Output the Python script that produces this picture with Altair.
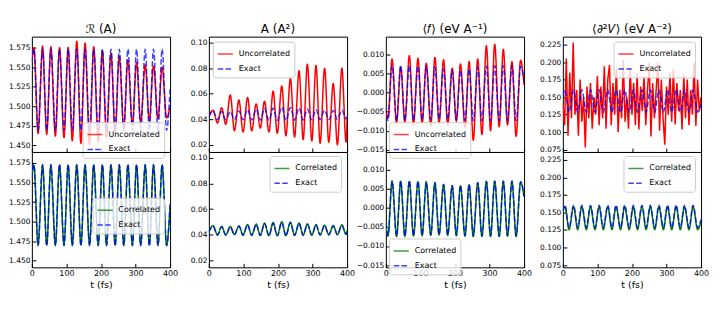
import altair as alt
import pandas as pd

# ---------------- data ----------------
# common time grid for R, <f>, <d2V>  (R peaks at odd indices)
T = [0, 6, 18, 31, 43, 55, 68, 80, 93, 105, 117, 130, 142, 154, 167, 179, 192, 204,
     216, 229, 241, 253, 266, 278, 291, 303, 315, 328, 340, 352, 365, 377, 390, 400]

R_exact = [1.556, 1.573, 1.469, 1.573, 1.469, 1.573, 1.469, 1.573, 1.469, 1.573, 1.469,
           1.573, 1.469, 1.573, 1.469, 1.573, 1.469, 1.573, 1.469, 1.573, 1.469, 1.573,
           1.469, 1.573, 1.469, 1.573, 1.469, 1.573, 1.469, 1.573, 1.469, 1.573, 1.469, 1.522]
R_corr = [1.556, 1.572, 1.470, 1.572, 1.470, 1.572, 1.470, 1.572, 1.470, 1.572, 1.470,
          1.572, 1.470, 1.572, 1.470, 1.572, 1.470, 1.572, 1.470, 1.572, 1.470, 1.572,
          1.470, 1.572, 1.470, 1.572, 1.470, 1.572, 1.470, 1.572, 1.470, 1.572, 1.470, 1.521]
R_unc = [1.556, 1.575, 1.465, 1.577, 1.464, 1.576, 1.462, 1.575, 1.460, 1.575, 1.456,
         1.583, 1.4525, 1.5805, 1.451, 1.576, 1.454, 1.571, 1.460, 1.568, 1.467, 1.5635,
         1.472, 1.559, 1.476, 1.556, 1.479, 1.553, 1.482, 1.5515, 1.484, 1.550, 1.485, 1.500]

F_exact = [-0.0040, -0.0073, 0.0071, -0.0074, 0.0071, -0.0074, 0.0071, -0.0073, 0.0070,
           -0.0072, 0.0069, -0.0071, 0.0067, -0.0070, 0.0062, -0.0071, 0.0059, -0.0072,
           0.0059, -0.0073, 0.0062, -0.0074, 0.0067, -0.0074, 0.0070, -0.0074, 0.0071,
           -0.0074, 0.0071, -0.0073, 0.0071, -0.0074, 0.0069, 0.0030]
F_corr = [-0.0040, -0.0074, 0.0070, -0.0075, 0.0070, -0.0075, 0.0070, -0.0074, 0.0069,
          -0.0073, 0.0068, -0.0072, 0.0066, -0.0071, 0.0061, -0.0072, 0.0058, -0.0073,
          0.0058, -0.0074, 0.0061, -0.0075, 0.0066, -0.0075, 0.0069, -0.0075, 0.0070,
          -0.0075, 0.0070, -0.0074, 0.0070, -0.0075, 0.0068, 0.0030]
F_unc = [-0.0040, -0.0068, 0.0088, -0.0080, 0.0068, -0.0078, 0.0097, -0.0085, 0.0090,
         -0.0082, 0.0077, -0.0088, 0.0092, -0.0080, 0.0086, -0.0086, 0.0064, -0.0075,
         0.0075, -0.0092, 0.0082, -0.0125, 0.0088, -0.0110, 0.0123, -0.0100, 0.0127,
         -0.0090, 0.0114, -0.0085, 0.0081, -0.0115, 0.0085, 0.0020]

V_exact = [0.152, 0.1605, 0.1285, 0.1605, 0.1285, 0.1605, 0.1285, 0.1605, 0.1285, 0.1605,
           0.1285, 0.1605, 0.1285, 0.1605, 0.1285, 0.1605, 0.1285, 0.1605, 0.1285, 0.1605,
           0.1285, 0.1605, 0.1285, 0.1605, 0.1285, 0.1605, 0.1285, 0.1605, 0.1285, 0.1605,
           0.1285, 0.1605, 0.1285, 0.140]
V_corr = [0.150, 0.1585, 0.1255, 0.1585, 0.1255, 0.1585, 0.1255, 0.1585, 0.1255, 0.1585,
          0.1255, 0.1585, 0.1255, 0.1585, 0.1255, 0.1585, 0.1255, 0.1585, 0.1255, 0.1585,
          0.1255, 0.1585, 0.1255, 0.1585, 0.1255, 0.1585, 0.1255, 0.1585, 0.1255, 0.1585,
          0.1255, 0.1585, 0.1255, 0.137]

# noisy uncorrelated <d2V>, 5 fs spacing
T5 = [0, 5, 10, 15, 20, 25, 30, 35, 40, 45, 50, 55, 60, 65, 70, 75, 80, 85, 90, 95,
      100, 105, 110, 115, 120, 125, 130, 135, 140, 145, 150, 155, 160, 165, 170, 175,
      180, 185, 190, 195, 200, 205, 210, 215, 220, 225, 230, 235, 240, 245, 250, 255,
      260, 265, 270, 275, 280, 285, 290, 295, 300, 305, 310, 315, 320, 325, 330, 335,
      340, 345, 350, 355, 360, 365, 370, 375, 380, 385, 390, 395, 400]
V_unc = [0.140, 0.110, 0.205, 0.095, 0.185, 0.120, 0.228, 0.125, 0.160, 0.095,
         0.175, 0.115, 0.150, 0.078, 0.165, 0.120, 0.170, 0.105, 0.150, 0.125,
         0.180, 0.110, 0.165, 0.120, 0.194, 0.105, 0.175, 0.196, 0.110, 0.170,
         0.125, 0.191, 0.100, 0.160, 0.120, 0.203, 0.115, 0.150, 0.105, 0.191,
         0.125, 0.170, 0.110, 0.184, 0.104, 0.165, 0.130, 0.180, 0.110, 0.160,
         0.199, 0.094, 0.170, 0.120, 0.160, 0.199, 0.102, 0.175, 0.120, 0.082,
         0.165, 0.125, 0.184, 0.115, 0.191, 0.111, 0.170, 0.130, 0.160, 0.104,
         0.182, 0.120, 0.175, 0.110, 0.160, 0.125, 0.199, 0.109, 0.175, 0.130,
         0.150]

# time grid for A (peaks at odd indices)
TA = [0, 12, 25, 37, 49, 62, 74, 87, 99, 112, 124, 137, 149, 161, 174, 186, 198, 211,
      223, 236, 248, 261, 273, 285, 298, 310, 322, 335, 347, 360, 372, 385, 397, 400]
A_exact = [0.0420, 0.0465, 0.0395, 0.0460, 0.0395, 0.0460, 0.0398, 0.0465, 0.0395, 0.0475,
           0.0393, 0.0478, 0.0392, 0.0485, 0.0390, 0.0488, 0.0390, 0.0495, 0.0390, 0.0492,
           0.0392, 0.0487, 0.0394, 0.0480, 0.0395, 0.0475, 0.0396, 0.0470, 0.0397, 0.0468,
           0.0398, 0.0472, 0.0400, 0.0430]
A_corr = [0.0420, 0.0470, 0.0398, 0.0465, 0.0397, 0.0463, 0.0400, 0.0468, 0.0397, 0.0478,
          0.0395, 0.0482, 0.0394, 0.0490, 0.0392, 0.0494, 0.0392, 0.0500, 0.0392, 0.0497,
          0.0394, 0.0490, 0.0396, 0.0483, 0.0397, 0.0478, 0.0398, 0.0473, 0.0399, 0.0470,
          0.0400, 0.0475, 0.0402, 0.0432]
A_unc = [0.042, 0.047, 0.037, 0.049, 0.036, 0.059, 0.031, 0.055, 0.030, 0.057,
         0.031, 0.052, 0.033, 0.054, 0.030, 0.062, 0.029, 0.066, 0.027, 0.072,
         0.026, 0.078, 0.024, 0.083, 0.023, 0.082, 0.021, 0.080, 0.022, 0.068,
         0.020, 0.080, 0.022, 0.040]

TITLES = ["ℛ (A)", "A (A²)", "⟨𝑓⟩ (eV A⁻¹)", "⟨∂²𝑉⟩ (eV A⁻²)"]
X_TICKS = [0, 100, 200, 300, 400]
R_TICKS = [1.450, 1.475, 1.500, 1.525, 1.550, 1.575]
A_TICKS = [0.02, 0.04, 0.06, 0.08, 0.10]
F_TICKS = [-0.015, -0.010, -0.005, 0.000, 0.005, 0.010]
V_TICKS = [0.075, 0.100, 0.125, 0.150, 0.175, 0.200, 0.225]

RED = "#ff0000"
GREEN = "#008000"
BLUE = "#0000ff"
FONT = "DejaVu Sans"
PW, PH = 139, 116


def panel(t_o, v_o, lab_o, col_o, t_e, v_e, ydom, yticks, yfmt, top, lx, ly,
          title=None, interp_o="monotone"):
    d1 = pd.DataFrame({"t": t_o, "v": v_o, "s": lab_o})
    d2 = pd.DataFrame({"t": t_e, "v": v_e, "s": "Exact"})
    leg = alt.Legend(title=None, orient="none", legendX=lx, legendY=ly,
                     fillColor="rgba(255,255,255,0.8)", strokeColor="#cccccc",
                     cornerRadius=3, padding=4, labelFontSize=8, labelFont=FONT,
                     labelColor="black", symbolType="stroke", symbolSize=230,
                     symbolStrokeWidth=1.5, rowPadding=2, labelOffset=5, labelLimit=200)
    cs = alt.Scale(domain=[lab_o, "Exact"], range=[col_o, BLUE])
    ds = alt.Scale(domain=[lab_o, "Exact"], range=[[1, 0], [5.5, 2.4]])
    xax_kw = dict(values=X_TICKS, tickSize=4, offset=-4, domain=False, grid=False,
                  labelPadding=2, tickColor="black", labelFlush=False,
                  labelFont=FONT, labelFontSize=8, labelColor="black",
                  titleFont=FONT, titleFontWeight="normal", titlePadding=2,
                  titleFontSize=9.5, titleColor="black")
    if top:
        xax_kw["labels"] = False
        xenc = alt.X("t:Q", scale=alt.Scale(domain=[0, 400], nice=False),
                     axis=alt.Axis(**xax_kw), title=None)
    else:
        xenc = alt.X("t:Q", scale=alt.Scale(domain=[0, 400], nice=False),
                     axis=alt.Axis(**xax_kw), title="t (fs)")
    yenc = alt.Y("v:Q", scale=alt.Scale(domain=ydom, nice=False, zero=False),
                 axis=alt.Axis(values=yticks, format=yfmt, tickSize=4, offset=-4,
                               domain=False, grid=False, labelPadding=2,
                               labelFlush=False, tickColor="black",
                               labelFont=FONT, labelFontSize=7.5, labelColor="black"),
                 title=None)
    l1 = alt.Chart(d1).mark_line(interpolate=interp_o, strokeWidth=1.5, clip=True).encode(
        x=xenc, y=yenc,
        color=alt.Color("s:N", scale=cs, legend=leg),
        strokeDash=alt.StrokeDash("s:N", scale=ds, legend=leg),
    )
    l2 = alt.Chart(d2).mark_line(interpolate="monotone", strokeWidth=1.5, opacity=0.75,
                                 clip=True).encode(
        x=xenc, y=yenc,
        color=alt.Color("s:N", scale=cs, legend=leg),
        strokeDash=alt.StrokeDash("s:N", scale=ds, legend=leg),
    )
    ch = alt.layer(l1, l2).properties(width=PW, height=PH)
    if title is not None:
        ch = ch.properties(title=alt.TitleParams(text=title, fontSize=12, font=FONT,
                                                 fontWeight="normal", offset=1,
                                                 anchor="middle", color="black"))
    return ch


R_DOM = [1.4415, 1.589]
A_DOM = [0.0143, 0.1047]
F_DOM = [-0.0156, 0.0147]
V_DOM = [0.0717, 0.2364]

panels = [
    panel(T, R_unc, "Uncorrelated", RED, T, R_exact, R_DOM, R_TICKS, ".3f", True, 51, 86, TITLES[0]),
    panel(TA, A_unc, "Uncorrelated", RED, TA, A_exact, A_DOM, A_TICKS, ".2f", True, 4, 5, TITLES[1]),
    panel(T, F_unc, "Uncorrelated", RED, T, F_exact, F_DOM, F_TICKS, ".3f", True, 3, 86, TITLES[2]),
    panel(T5, V_unc, "Uncorrelated", RED, T, V_exact, V_DOM, V_TICKS, ".3f", True, 51, 5, TITLES[3], "linear"),
    panel(T, R_corr, "Correlated", GREEN, T, R_exact, R_DOM, R_TICKS, ".3f", False, 61, 46),
    panel(TA, A_corr, "Correlated", GREEN, TA, A_exact, A_DOM, A_TICKS, ".2f", False, 61, 4),
    panel(T, F_corr, "Correlated", GREEN, T, F_exact, F_DOM, F_TICKS, ".3f", False, 3, 87),
    panel(T, V_corr, "Correlated", GREEN, T, V_exact, V_DOM, V_TICKS, ".3f", False, 61, 4),
]

chart = alt.concat(*panels, columns=4, spacing={"row": 0, "column": 39}, bounds="flush").resolve_scale(
    color="independent", strokeDash="independent", y="independent", x="independent"
).resolve_legend(
    color="independent", strokeDash="independent"
).resolve_axis(
    x="independent", y="independent"
).properties(
    padding={"left": 0, "top": 13, "right": 2, "bottom": 0},
    background="white",
).configure_view(
    stroke="black", strokeWidth=1
).configure_axis(
    labelFont=FONT, labelFontSize=7.5, labelColor="black", titleFont=FONT,
    titleFontSize=9.5, titleFontWeight="normal", titleColor="black", titlePadding=2
)

chart.save("out.html", embed_options={"renderer": "svg", "actions": False})
